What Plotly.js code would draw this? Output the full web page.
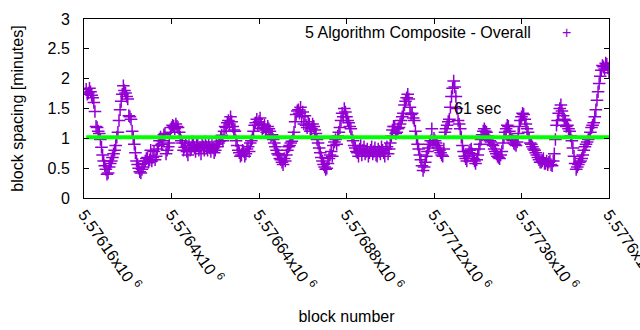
<!DOCTYPE html>
<html>
<head>
<meta charset="utf-8">
<script src="https://cdn.plot.ly/plotly-3.0.1.min.js"></script>
<style>
  html, body { margin: 0; padding: 0; background: #fff; }
  #chart { width: 640px; height: 330px; }
</style>
</head>
<body>
<div id="chart"></div>
<script>
// ---- data ----
const seriesName = "5 Algorithm Composite - Overall";
const averageLabel = "61 sec";
const averageMinutes = 1.02;

const blockNumbersA = [
  5576166, 5576172, 5576178, 5576184, 5576190, 5576196, 5576202, 5576208, 5576214, 5576220,
  5576226, 5576232, 5576238, 5576244, 5576250, 5576256, 5576262, 5576268, 5576274, 5576280,
  5576286, 5576292, 5576298, 5576304, 5576310, 5576316, 5576322, 5576328, 5576334, 5576340,
  5576346, 5576352, 5576358, 5576364, 5576370, 5576376, 5576382, 5576388, 5576394, 5576400,
  5576406, 5576412, 5576418, 5576424, 5576430, 5576436, 5576442, 5576448, 5576454, 5576460,
  5576466, 5576472, 5576478, 5576484, 5576490, 5576496, 5576502, 5576508, 5576514, 5576520,
  5576526, 5576532, 5576538, 5576544, 5576550, 5576556, 5576562, 5576568, 5576574, 5576580,
  5576586, 5576592, 5576598, 5576604, 5576610, 5576616, 5576622, 5576628, 5576634, 5576640,
  5576646, 5576652, 5576658, 5576664, 5576670, 5576676, 5576682, 5576688, 5576694, 5576700,
  5576706, 5576712, 5576718, 5576724, 5576730, 5576736, 5576742, 5576748, 5576754, 5576760,
  5576766, 5576772, 5576778, 5576784, 5576790, 5576796, 5576802, 5576808, 5576814, 5576820,
  5576826, 5576832, 5576838, 5576844, 5576850, 5576856, 5576862, 5576868, 5576874, 5576880,
  5576886, 5576892, 5576898, 5576904, 5576910, 5576916, 5576922, 5576928, 5576934, 5576940,
  5576946, 5576952, 5576958, 5576964, 5576970, 5576976, 5576982, 5576988, 5576994, 5577000,
  5577006, 5577012, 5577018, 5577024, 5577030, 5577036, 5577042, 5577048, 5577054, 5577060,
  5577066, 5577072, 5577078, 5577084, 5577090, 5577096, 5577102, 5577108, 5577114, 5577120,
  5577126, 5577132, 5577138, 5577144, 5577150, 5577156, 5577162, 5577168, 5577174, 5577180,
  5577186, 5577192, 5577198, 5577204, 5577210, 5577216, 5577222, 5577228, 5577234, 5577240,
  5577246, 5577252, 5577258, 5577264, 5577270, 5577276, 5577282, 5577288, 5577294, 5577300,
  5577306, 5577312, 5577318, 5577324, 5577330, 5577336, 5577342, 5577348, 5577354, 5577360,
  5577366, 5577372, 5577378, 5577384, 5577390, 5577396, 5577402, 5577408, 5577414, 5577420,
  5577426, 5577432, 5577438, 5577444, 5577450, 5577456, 5577462, 5577468, 5577474, 5577480,
  5577486, 5577492, 5577498, 5577504, 5577510, 5577516, 5577522, 5577528, 5577534, 5577540,
  5577546, 5577552, 5577558, 5577564, 5577570, 5577576, 5577582, 5577588, 5577594, 5577600
];

const blockSpacingA = [
  1.82, 1.76, 1.78, 1.68, 1.45, 1.18, 1.08, 0.85, 0.62, 0.48,
  0.42, 0.58, 0.68, 0.80, 1.02, 1.30, 1.62, 1.88, 1.76, 1.66,
  1.36, 1.12, 0.90, 0.62, 0.50, 0.42, 0.52, 0.62, 0.68, 0.64,
  0.62, 0.78, 0.70, 0.88, 1.02, 0.96, 1.08, 0.80, 0.92, 1.18,
  1.20, 1.24, 1.18, 1.02, 0.92, 0.85, 0.78, 0.88, 0.82, 0.90,
  0.78, 0.88, 0.84, 0.92, 0.80, 0.86, 0.90, 0.78, 0.84, 0.80,
  0.86, 0.95, 1.05, 1.12, 1.18, 1.30, 1.36, 1.20, 1.12, 0.88,
  0.76, 0.72, 0.78, 0.74, 0.86, 0.92, 1.00, 1.22, 1.32, 1.28,
  1.24, 1.18, 1.14, 1.20, 1.12, 1.06, 0.92, 0.80, 0.72, 0.64,
  0.56, 0.62, 0.80, 0.88, 0.95, 1.10, 1.40, 1.48, 1.52, 1.44,
  1.38, 1.18, 1.24, 1.16, 1.20, 1.08, 0.92, 0.76, 0.62, 0.52,
  0.50, 0.66, 0.78, 0.88, 0.98, 1.04, 1.18, 1.42, 1.50, 1.36,
  1.26, 1.16, 0.96, 0.84, 0.76, 0.82, 0.72, 0.86, 0.78, 0.70,
  0.80, 0.74, 0.84, 0.70, 0.78, 0.86, 0.76, 0.82, 0.74, 0.92,
  1.14, 1.20, 1.10, 1.18, 1.30, 1.42, 1.62, 1.74, 1.52, 1.42,
  1.30, 1.00, 0.82, 0.64, 0.46, 0.60, 0.78, 0.90, 1.16, 1.00,
  0.92, 0.84, 0.76, 0.70, 1.10, 1.22, 1.32, 1.70, 1.96, 1.70,
  1.30, 1.16, 0.88, 0.70, 0.62, 0.76, 0.82, 0.66, 0.58, 0.72,
  0.90, 1.06, 1.16, 1.10, 1.00, 0.94, 0.88, 0.78, 0.70, 0.66,
  0.78, 1.02, 1.16, 1.20, 1.04, 0.96, 0.90, 0.94, 1.20, 1.36,
  1.40, 1.24, 1.10, 0.92, 0.86, 0.80, 0.72, 0.64, 0.60, 0.66,
  0.58, 0.56, 0.62, 0.54, 0.74, 1.22, 1.42, 1.56, 1.38, 1.30,
  1.22, 1.12, 0.96, 0.70, 0.48, 0.56, 0.62, 0.72, 0.86, 0.94,
  1.00, 1.18, 1.26, 1.48, 1.78, 2.04, 2.22, 2.16, 2.24, 2.10
];

const blockNumbersB = [
  5576169, 5576175, 5576181, 5576187, 5576193, 5576199, 5576205, 5576211, 5576217, 5576223,
  5576229, 5576235, 5576241, 5576247, 5576253, 5576259, 5576265, 5576271, 5576277, 5576283,
  5576289, 5576295, 5576301, 5576307, 5576313, 5576319, 5576325, 5576331, 5576337, 5576343,
  5576349, 5576355, 5576361, 5576367, 5576373, 5576379, 5576385, 5576391, 5576397, 5576403,
  5576409, 5576415, 5576421, 5576427, 5576433, 5576439, 5576445, 5576451, 5576457, 5576463,
  5576469, 5576475, 5576481, 5576487, 5576493, 5576499, 5576505, 5576511, 5576517, 5576523,
  5576529, 5576535, 5576541, 5576547, 5576553, 5576559, 5576565, 5576571, 5576577, 5576583,
  5576589, 5576595, 5576601, 5576607, 5576613, 5576619, 5576625, 5576631, 5576637, 5576643,
  5576649, 5576655, 5576661, 5576667, 5576673, 5576679, 5576685, 5576691, 5576697, 5576703,
  5576709, 5576715, 5576721, 5576727, 5576733, 5576739, 5576745, 5576751, 5576757, 5576763,
  5576769, 5576775, 5576781, 5576787, 5576793, 5576799, 5576805, 5576811, 5576817, 5576823,
  5576829, 5576835, 5576841, 5576847, 5576853, 5576859, 5576865, 5576871, 5576877, 5576883,
  5576889, 5576895, 5576901, 5576907, 5576913, 5576919, 5576925, 5576931, 5576937, 5576943,
  5576949, 5576955, 5576961, 5576967, 5576973, 5576979, 5576985, 5576991, 5576997, 5577003,
  5577009, 5577015, 5577021, 5577027, 5577033, 5577039, 5577045, 5577051, 5577057, 5577063,
  5577069, 5577075, 5577081, 5577087, 5577093, 5577099, 5577105, 5577111, 5577117, 5577123,
  5577129, 5577135, 5577141, 5577147, 5577153, 5577159, 5577165, 5577171, 5577177, 5577183,
  5577189, 5577195, 5577201, 5577207, 5577213, 5577219, 5577225, 5577231, 5577237, 5577243,
  5577249, 5577255, 5577261, 5577267, 5577273, 5577279, 5577285, 5577291, 5577297, 5577303,
  5577309, 5577315, 5577321, 5577327, 5577333, 5577339, 5577345, 5577351, 5577357, 5577363,
  5577369, 5577375, 5577381, 5577387, 5577393, 5577399, 5577405, 5577411, 5577417, 5577423,
  5577429, 5577435, 5577441, 5577447, 5577453, 5577459, 5577465, 5577471, 5577477, 5577483,
  5577489, 5577495, 5577501, 5577507, 5577513, 5577519, 5577525, 5577531, 5577537, 5577543,
  5577549, 5577555, 5577561, 5577567, 5577573, 5577579, 5577585, 5577591, 5577597
];

const blockSpacingB = [
  1.74, 1.84, 1.72, 1.60, 1.20, 1.12, 0.98, 0.72, 0.54, 0.40,
  0.52, 0.62, 0.74, 0.88, 1.10, 1.48, 1.74, 1.80, 1.70, 1.38,
  1.32, 1.00, 0.76, 0.56, 0.44, 0.48, 0.58, 0.66, 0.60, 0.80,
  0.68, 0.64, 0.82, 0.96, 0.90, 1.06, 0.74, 0.86, 1.10, 1.22,
  1.16, 1.20, 1.10, 0.96, 0.80, 0.92, 0.72, 0.80, 0.94, 0.84,
  0.90, 0.80, 0.74, 0.86, 0.94, 0.80, 0.84, 0.88, 0.76, 0.90,
  0.92, 1.00, 0.96, 1.20, 1.26, 1.24, 1.28, 1.14, 0.96, 0.80,
  0.70, 0.80, 0.70, 0.82, 0.78, 0.96, 1.12, 1.26, 1.22, 1.34,
  1.16, 1.22, 1.10, 1.16, 1.04, 0.98, 0.86, 0.74, 0.66, 0.60,
  0.66, 0.72, 0.86, 0.92, 1.02, 1.28, 1.46, 1.42, 1.36, 1.24,
  1.22, 1.28, 1.12, 1.24, 1.14, 0.98, 0.84, 0.68, 0.56, 0.48,
  0.58, 0.72, 0.70, 0.94, 0.90, 1.10, 1.30, 1.36, 1.44, 1.30,
  1.20, 1.02, 0.88, 0.78, 0.70, 0.88, 0.80, 0.74, 0.82, 0.76,
  0.86, 0.78, 0.72, 0.82, 0.74, 0.80, 0.70, 0.86, 0.82, 1.04,
  1.20, 1.08, 1.16, 1.24, 1.36, 1.56, 1.68, 1.66, 1.40, 1.34,
  1.12, 0.90, 0.72, 0.54, 0.52, 0.70, 0.84, 0.96, 0.94, 0.96,
  0.88, 0.80, 0.72, 0.82, 1.16, 1.28, 1.52, 1.84, 1.86, 1.50,
  1.24, 1.02, 0.78, 0.66, 0.70, 0.80, 0.74, 0.62, 0.64, 0.82,
  0.98, 1.12, 1.12, 1.04, 0.96, 0.90, 0.82, 0.74, 0.68, 0.72,
  0.92, 1.10, 1.22, 1.12, 0.98, 0.92, 0.88, 1.08, 1.30, 1.42,
  1.32, 1.16, 1.00, 0.90, 0.82, 0.76, 0.68, 0.60, 0.62, 0.58,
  0.62, 0.60, 0.56, 0.62, 0.98, 1.30, 1.50, 1.46, 1.32, 1.20,
  1.16, 1.04, 0.84, 0.58, 0.52, 0.60, 0.66, 0.80, 0.90, 0.98,
  1.10, 1.22, 1.36, 1.64, 1.92, 2.14, 2.20, 2.26, 2.18
];

const averageBlocks = [5576166, 5577600];
const averageValues = [averageMinutes, averageMinutes];

const xTickValues = [5576160, 5576400, 5576640, 5576880, 5577120, 5577360, 5577600];
const xTickLabels = ["5.57616x10 <sup>6</sup>", "5.5764x10 <sup>6</sup>", "5.57664x10 <sup>6</sup>",
                     "5.57688x10 <sup>6</sup>", "5.57712x10 <sup>6</sup>", "5.57736x10 <sup>6</sup>",
                     "5.5776x10 <sup>6</sup>"];
const yTickValues = [0, 0.5, 1, 1.5, 2, 2.5, 3];
const yTickLabels = ["0", "0.5", "1", "1.5", "2", "2.5", "3"];
const averageLabelBlock = 5577169;
const averageLabelValue = 1.5;

// ---- chart ----
const FONT = "Liberation Sans, Arial, sans-serif";
const purple = "#9400d3";

const traces = [
  {
    type: "scatter", mode: "markers", name: seriesName,
    x: blockNumbersA.concat(blockNumbersB), y: blockSpacingA.concat(blockSpacingB),
    marker: { symbol: "cross-thin-open", size: 9, color: purple, line: { color: purple, width: 1.5 } },
    showlegend: false
  },
  {
    type: "scatter", mode: "lines", name: averageLabel,
    x: averageBlocks, y: averageValues,
    line: { color: "#00ff00", width: 4 },
    showlegend: false
  }
];

const layout = {
  width: 640, height: 330,
  margin: { l: 84, r: 31, t: 19, b: 132 },
  paper_bgcolor: "#fff", plot_bgcolor: "#fff",
  font: { family: FONT, size: 16, color: "#000" },
  showlegend: false,
  xaxis: {
    range: [5576160, 5577600],
    tickvals: xTickValues, ticktext: xTickLabels,
    tickangle: 55,
    ticklabeloverflow: "allow",
    ticks: "inside", ticklen: 5, tickcolor: "#000", tickwidth: 1,
    showline: true, linecolor: "#000", linewidth: 1, mirror: "ticks",
    showgrid: false, zeroline: false,
    tickfont: { family: FONT, size: 16, color: "#000" },
    title: { text: "block number", font: { family: FONT, size: 16, color: "#000" }, standoff: 18 }
  },
  yaxis: {
    range: [0, 3],
    tickvals: yTickValues, ticktext: yTickLabels,
    ticks: "inside", ticklen: 5, tickcolor: "#000", tickwidth: 1,
    showline: true, linecolor: "#000", linewidth: 1, mirror: "ticks",
    showgrid: false, zeroline: false,
    ticklabelstandoff: 10,
    tickfont: { family: FONT, size: 16, color: "#000" },
    title: { text: "block spacing [minutes]", font: { family: FONT, size: 16, color: "#000" }, standoff: 19 }
  },
  annotations: [
    { xref: "paper", yref: "paper", x: 0.855, y: 0.927, xanchor: "right", yanchor: "middle",
      text: seriesName, showarrow: false, font: { family: FONT, size: 16, color: "#000" } },
    { xref: "paper", yref: "paper", x: 0.919, y: 0.927, xanchor: "center", yanchor: "middle",
      text: "+", showarrow: false, font: { family: FONT, size: 16, color: purple } },
    { xref: "x", yref: "y", x: averageLabelBlock, y: averageLabelValue, xanchor: "left", yanchor: "middle",
      text: averageLabel, showarrow: false, font: { family: FONT, size: 16, color: "#000" } }
  ]
};

Plotly.newPlot("chart", traces, layout, { staticPlot: true, displayModeBar: false });
</script>
</body>
</html>
